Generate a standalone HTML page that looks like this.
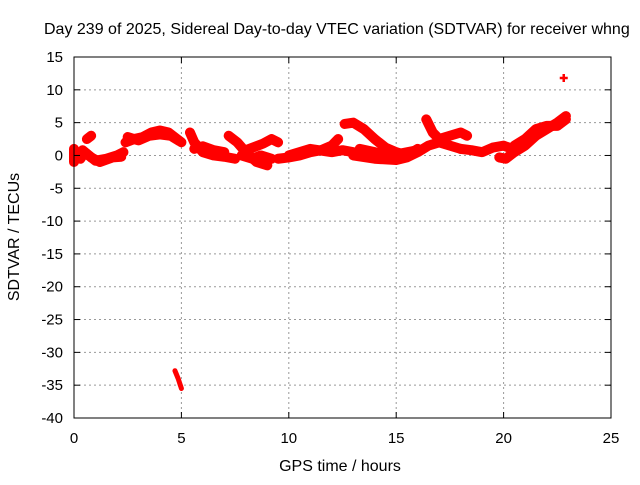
<!DOCTYPE html>
<html><head><meta charset="utf-8"><style>
body{margin:0;background:#fff;}
svg text{font-family:"Liberation Sans",sans-serif;font-size:15px;fill:#000;}
svg text.big{font-size:16px;}
</style></head><body>
<svg id="c" width="640" height="480">
<text class="big" x="44" y="34">Day 239 of 2025, Sidereal Day-to-day VTEC variation (SDTVAR) for receiver whng</text>
<text class="big" x="340" y="471" text-anchor="middle">GPS time / hours</text>
<text class="big" transform="translate(19,237) rotate(-90)" text-anchor="middle">SDTVAR / TECUs</text>
<g id="grid"></g><g id="marks"></g>
<rect x="74" y="57" width="537" height="361" fill="none" stroke="#000" stroke-width="1"/>
<g id="ticks"></g>
</svg>
<script>
const xTicks=[0,5,10,15,20,25];
const yTicks=[15,10,5,0,-5,-10,-15,-20,-25,-30,-35,-40];
const tracks=[
[[0,-1],[0,1]],
[[0,0],[0.3,-0.5],[0.5,0.5],[1,-0.8],[1.5,-0.5],[2,0],[2.3,0.5]],
[[0.4,0.8],[0.8,-0.3],[1.2,-1],[1.8,-0.3],[2.2,-0.2]],
[[0.6,2.5],[0.8,3]],
[[2.4,2],[2.8,2.5],[3.2,2.8],[3.6,3.5],[4,3.8],[4.4,3.5],[4.8,2.5],[5,2]],
[[2.5,2.8],[3,2.3],[3.5,3],[4,3.2],[4.5,3],[4.9,2.2]],
[[5.4,3.5],[5.6,2],[6,0.5],[6.5,0],[7,-0.2],[7.5,-0.5]],
[[5.6,1],[6,1.4],[6.5,0.8],[7,0.5]],
[[7.2,3],[7.6,2],[8,0.5],[8.5,-1],[9,-1.5]],
[[7.8,0],[8.3,-0.5],[8.7,0],[9.2,-0.5]],
[[8,0.8],[8.8,1.8],[9.2,2.5],[9.5,2]],
[[9.5,-0.5],[10,-0.3],[10.5,0],[11,0.5],[11.5,0.8],[12,1.5],[12.3,2.5]],
[[10,0],[11,1],[12,0.5],[12.5,0.8],[13,0.5],[13.5,0]],
[[12.6,4.8],[13,5],[13.5,4],[14,2.5],[14.5,1.2],[15,0.5],[15.5,0],[16,1]],
[[13,0],[14,-0.5],[15,-0.7],[15.5,-0.3],[16,0.5],[16.5,1.5],[17,2],[17.5,1.5],[18,1]],
[[13.3,1],[14,0.5],[14.5,0],[15.2,0.3],[16,0.8]],
[[16.4,5.5],[16.7,3.5],[17,2.5],[17.5,3],[18,3.5],[18.3,3]],
[[18,1],[18.5,0.8],[19,0.5],[19.5,1.2],[20,1.5],[20.4,1]],
[[19.8,-0.3],[20.1,-0.5],[20.5,0.5],[21,1.5],[21.5,3],[22,4],[22.5,5],[22.9,6]],
[[20.5,1.5],[21,2.5],[21.5,4],[22,4.5],[22.5,4.5],[22.9,5.5]],
[[4.7,-32.8],[4.85,-34],[5,-35.5]]
];
const outliers=[[22.8,11.8],[7.2,3]];
const X=h=>74+h*537/25, Y=v=>57+(15-v)*361/55;
const NS='http://www.w3.org/2000/svg';
const g=document.getElementById('grid'),m=document.getElementById('marks'),t=document.getElementById('ticks');
function el(n,a,p){const e=document.createElementNS(NS,n);for(const k in a)e.setAttribute(k,a[k]);p.appendChild(e);return e;}
xTicks.forEach(v=>{const x=X(v);
 if(v>0&&v<25){const l=el('line',{x1:x,y1:57,x2:x,y2:418,stroke:'#999','stroke-dasharray':'2,3'},g);
 
 }
 el('line',{x1:x,y1:418,x2:x,y2:412,stroke:'#000'},t);el('line',{x1:x,y1:57,x2:x,y2:63,stroke:'#000'},t);
 const s=el('text',{x:x,y:443,'text-anchor':'middle'},t);s.textContent=v;
 
 });
yTicks.forEach(v=>{const y=Y(v);
 if(v<15&&v>-40){const l=el('line',{x1:74,y1:y,x2:611,y2:y,stroke:'#999','stroke-dasharray':'2,3'},g);
 
 }
 el('line',{x1:74,y1:y,x2:80,y2:y,stroke:'#000'},t);el('line',{x1:611,y1:y,x2:605,y2:y,stroke:'#000'},t);
 const s=el('text',{x:63,y:y+5,'text-anchor':'end'},t);s.textContent=v;
 
 });
tracks.forEach((tr,i)=>{
 const p=el('polyline',{points:tr.map(d=>X(d[0])+','+Y(d[1])).join(' '),fill:'none',stroke:'#f00','stroke-width':i==tracks.length-1?5:10,'stroke-linejoin':'round','stroke-linecap':'round'},m);
 
 
});
outliers.forEach(d=>{const x=X(d[0]),y=Y(d[1]);
 const p=el('path',{d:`M${x-4},${y}H${x+4}M${x},${y-4}V${y+4}`,stroke:'#f00','stroke-width':2.5},m);
 
 });
</script>
</body></html>
